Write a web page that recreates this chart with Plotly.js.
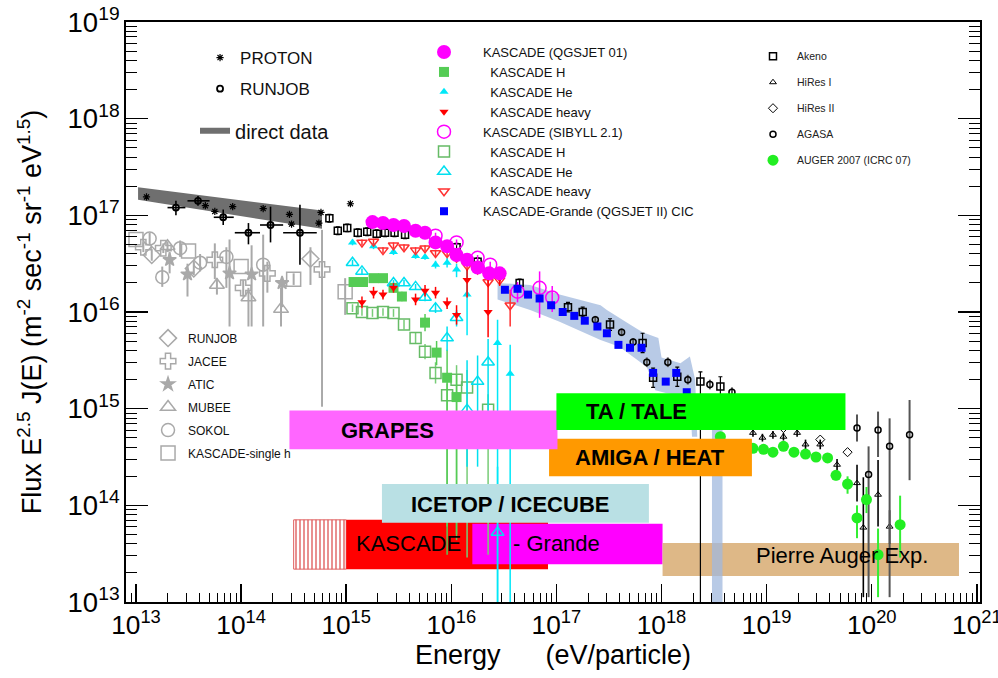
<!DOCTYPE html>
<html><head><meta charset="utf-8">
<script src="https://cdn.plot.ly/plotly-3.0.1.min.js"></script>
<style>html,body{margin:0;padding:0;background:#fff;} #chart{width:998px;height:678px;}</style>
</head><body><div id="chart"></div>
<script>
// All values are log10: energy in eV, flux E^2.5 J(E)
// ---- low-energy direct measurements ----
const protonE = [13.10,13.66,13.75,13.92,14.21,14.46,14.48,14.76,14.74,15.04];
const protonF = [17.19,17.10,17.04,17.09,17.07,17.01,16.91,17.03,16.92,17.12];

const runjobE   = [13.38,13.59,13.83,14.07,14.28,14.56];
const runjobF   = [17.08,17.15,16.98,16.82,16.90,16.82];
const runjobFHi = [17.15,17.20,17.06,16.92,17.09,17.11];
const runjobFLo = [17.00,17.10,16.90,16.70,16.72,16.49];
const runjobELo = [13.30,13.49,13.74,13.94,14.18,14.40];
const runjobEHi = [13.47,13.70,13.93,14.18,14.40,14.72];

const directE  = [13.02,14.77];
const directHi = [17.29,17.05];
const directLo = [17.16,16.86];

const gRunjobE  = [13.15,13.55,14.66];
const gRunjobF  = [16.59,16.45,16.55];
const gRunjobHi = [16.65,16.52,16.67];
const gRunjobLo = [16.53,16.38,16.28];

const jaceeE  = [13.07,13.26,13.75,14.02,14.25,14.77];
const jaceeF  = [16.67,16.66,16.54,16.25,16.40,16.44];
const jaceeHi = [16.72,16.71,16.71,16.33,16.52,16.85];
const jaceeLo = [16.62,16.61,16.34,16.16,16.20,15.02];

const aticE  = [13.32,13.49,13.89,14.10,14.39];
const aticF  = [16.54,16.39,16.40,16.39,16.30];
const aticHi = [16.62,16.50,16.75,16.69,16.36];
const aticLo = [16.40,16.16,15.85,15.85,16.05];

const mubeeE  = [13.30,13.77,14.07,14.38];
const mubeeF  = [16.68,16.28,16.15,16.03];
const mubeeHi = [16.73,16.35,16.25,16.25];
const mubeeLo = [16.62,16.18,15.85,15.85];

const sokolE  = [13.13,13.25,13.42,13.61,13.86,14.21];
const sokolF  = [16.76,16.36,16.66,16.51,16.57,16.49];
const sokolHi = [16.82,16.47,16.74,16.60,16.67,16.80];
const sokolLo = [16.70,16.26,16.57,16.42,16.25,15.85];

const kSingleE  = [13.00,13.50,14.00,14.50,14.99];
const kSingleF  = [16.75,16.63,16.47,16.34,16.21];
const kSingleHi = [16.75,16.63,16.47,16.40,16.35];
const kSingleLo = [16.75,16.63,16.47,16.28,15.97];

// ---- KASCADE (QGSJET 01) ----
const kqE = [15.25,15.35,15.45,15.55,15.66,15.75,15.85,15.96,16.05,16.15,16.25,16.36,16.46];
const kqF = [16.93,16.92,16.90,16.89,16.84,16.82,16.72,16.68,16.59,16.54,16.46,16.40,16.40];

const kqHE  = [15.07,15.16,15.26,15.35,15.45,15.53,15.75,15.86,15.96,16.05];
const kqHF  = [16.31,16.31,16.35,16.35,16.25,16.16,15.89,15.58,15.32,15.12];
const kqHHi = [16.35,16.35,16.39,16.39,16.29,16.21,15.98,15.70,15.61,15.35];
const kqHLo = [16.27,16.27,16.31,16.31,16.21,16.11,15.80,15.45,13.49,13.64];

const kqHeE  = [15.06,15.26,15.45,15.66,15.75,15.85,15.96,16.05,16.15,16.44,16.56];
const kqHeF  = [16.72,16.68,16.62,16.58,16.57,16.49,16.51,16.44,16.18,15.68,15.36];
const kqHeHi = [16.75,16.71,16.65,16.61,16.60,16.53,16.56,16.50,16.44,15.92,15.66];
const kqHeLo = [16.69,16.65,16.59,16.55,16.54,16.45,16.46,16.36,15.76,12.50,12.50];

const kqHvE  = [15.15,15.26,15.35,15.45,15.66,15.75,15.85,15.96,16.05,16.15,16.35,16.46];
const kqHvF  = [16.10,16.20,16.18,16.25,16.13,16.22,16.20,16.09,15.97,16.33,16.00,16.35];
const kqHvHi = [16.16,16.26,16.23,16.30,16.19,16.28,16.26,16.15,16.07,16.44,16.33,16.42];
const kqHvLo = [16.04,16.14,16.13,16.20,16.07,16.16,16.14,16.03,15.87,16.15,15.74,16.27];

// ---- KASCADE (SIBYLL 2.1) ----
const ksE  = [15.85,16.05,16.25,16.37,16.63,16.84,16.96];
const ksF  = [16.79,16.72,16.56,16.49,16.21,16.25,16.15];
const ksHi = [16.82,16.75,16.59,16.52,16.31,16.42,16.27];
const ksLo = [16.76,16.69,16.53,16.46,16.10,15.94,16.00];

const ksHE  = [15.06,15.15,15.25,15.35,15.45,15.55,15.66,15.75,15.85,15.96,16.05,16.15,16.35];
const ksHF  = [16.04,16.00,15.99,16.00,15.99,15.87,15.73,15.59,15.37,15.14,15.30,15.22,14.99];
const ksHHi = [16.08,16.04,16.03,16.04,16.03,15.92,15.79,15.67,15.48,15.26,15.45,15.40,15.15];
const ksHLo = [16.00,15.96,15.95,15.96,15.95,15.82,15.67,15.51,15.26,13.78,13.70,13.46,13.49];

const ksHeE  = [15.06,15.15,15.45,15.55,15.66,15.75,15.85,15.96,16.05,16.15,16.25,16.35,16.44];
const ksHeF  = [16.51,16.42,16.30,16.30,16.26,16.15,16.04,15.73,15.94,14.99,15.28,15.48,13.72];
const ksHeHi = [16.54,16.45,16.33,16.33,16.29,16.19,16.09,15.85,16.02,15.50,15.55,15.72,14.40];
const ksHeLo = [16.48,16.39,16.27,16.27,16.23,16.11,15.99,15.60,15.85,14.40,14.40,14.80,12.50];

const ksHvE  = [15.15,15.26,15.35,15.45,15.55,15.66,15.75,15.85,15.96,16.05,16.15,16.25,16.35,16.46,16.56];
const ksHvF  = [16.72,16.73,16.64,16.69,16.67,16.64,16.66,16.61,16.61,16.56,16.48,16.44,16.31,16.33,16.07];
const ksHvHi = [16.75,16.76,16.67,16.72,16.70,16.67,16.69,16.64,16.64,16.59,16.52,16.48,16.36,16.37,16.23];
const ksHvLo = [16.69,16.70,16.61,16.66,16.64,16.61,16.63,16.58,16.58,16.53,16.44,16.40,16.26,16.29,15.85];

// ---- KASCADE-Grande ----
const kgE = [16.51,16.63,16.73,16.84,16.95,17.06,17.17,17.27,17.39,17.48,17.59,17.70,17.81,17.92,18.04,18.14,18.24];
const kgF = [16.23,16.24,16.18,16.14,16.07,16.00,15.96,15.91,15.85,15.78,15.66,15.63,15.63,15.37,15.28,15.37,15.17];
const bandUpE = [16.44,16.75,17.03,17.42,17.48,17.70,17.82,17.97,18.00,18.18,18.27,18.32,18.34];
const bandUpF = [16.30,16.28,16.18,16.07,16.02,15.87,15.79,15.73,15.53,15.47,15.54,15.30,14.71];
const bandLoE = [16.44,16.75,17.03,17.42,17.60,17.86,17.94,18.05,18.27,18.29];
const bandLoF = [16.13,16.02,15.90,15.71,15.64,15.43,15.19,15.16,15.12,14.71];
const spikeE = [18.48,18.58];
const spikeF = [14.85,12.50];

// ---- UHE experiments ----
const akE = [14.84,14.92,15.01,15.11,15.20,15.29,15.37,15.46,15.56,15.74,16.05,16.25,16.46,16.65,17.11,17.25,17.51,17.82,17.92,18.15,18.37,18.56];
const akF = [16.97,16.84,16.87,16.82,16.83,16.81,16.82,16.82,16.80,16.83,16.67,16.52,16.41,16.30,16.05,16.00,15.87,15.68,15.32,15.33,15.28,15.23];
const akHi= [17.01,16.88,16.91,16.86,16.87,16.85,16.86,16.86,16.84,16.87,16.71,16.56,16.45,16.34,16.10,16.05,15.93,15.78,15.42,15.43,15.38,15.33];
const akLo= [16.93,16.80,16.83,16.78,16.79,16.77,16.78,16.78,16.76,16.79,16.63,16.48,16.37,16.26,16.00,15.95,15.81,15.58,15.22,15.23,12.50,15.13];

const h1E = [18.87,18.96,19.06,19.16,19.29,19.37,19.51,19.67,19.86,20.06,20.17,19.92];
const h1F = [14.75,14.70,14.73,14.71,14.75,14.63,14.63,14.42,14.23,14.11,13.78,13.77];
const h1Hi= [14.79,14.74,14.77,14.75,14.79,14.68,14.68,14.48,14.42,14.47,13.95,14.29];
const h1Lo= [14.71,14.66,14.69,14.67,14.71,14.58,14.58,14.36,14.04,13.78,13.60,13.05];

const h2E = [19.16,19.51,19.77];
const h2F = [14.80,14.68,14.55];

const agE = [17.37,17.62,17.73,17.86,18.06,18.25,18.46,18.67,19.86,20.06,20.36,19.97,20.17];
const agF = [15.92,15.79,15.69,15.48,15.48,15.30,15.25,15.17,14.80,14.78,14.73,14.32,14.61];
const agHi= [15.96,15.83,15.73,15.53,15.53,15.35,15.30,15.22,14.94,14.97,15.09,14.61,14.90];
const agLo= [15.88,15.75,15.65,15.43,15.43,15.25,15.20,15.12,14.66,14.50,14.26,13.05,13.05];

const auE = [18.56,18.87,18.97,19.06,19.16,19.26,19.37,19.47,19.58,19.66,19.77,19.95,19.86,20.06,20.27];
const auF = [14.71,14.59,14.58,14.55,14.61,14.55,14.53,14.50,14.49,14.31,14.22,14.06,13.87,13.49,13.80];
const auHi= [14.74,14.62,14.61,14.58,14.64,14.58,14.56,14.53,14.53,14.36,14.30,14.19,14.00,13.76,14.10];
const auLo= [14.68,14.56,14.55,14.52,14.58,14.52,14.50,14.47,14.45,14.26,14.12,13.92,13.66,13.05,13.46];

// ---- experiment coverage boxes (energy range, flux band) ----
const boxIds  = ['KASCADE-hatch','KASCADE','Grande','Auger','AMIGA','GRAPES','TA','ICETOP'];
const boxELo  = [14.50,15.00,16.20,18.01,16.93,14.46,17.00,15.34];
const boxEHi  = [15.00,16.92,18.01,20.83,18.86,17.01,19.75,17.88];
const boxFLo  = [13.34,13.34,13.39,13.27,14.30,14.58,14.78,13.82];
const boxFHi  = [13.85,13.85,13.81,13.61,14.69,14.98,15.16,14.22];

// ---------------- build ----------------
const P = v => Math.pow(10, v);
const lin = a => a.map(P);
function eb(f, hi, lo, color, th, w) {
  return {type:'data', symmetric:false, visible:true,
    array: f.map((v,i)=>P(hi[i])-P(v)), arrayminus: f.map((v,i)=>P(v)-P(lo[i])),
    color:color, thickness:th||1, width:(w===undefined?0:w)};
}
const FONT = 'Liberation Sans, Arial, Helvetica, sans-serif';
const boxStyle = {
  'KASCADE-hatch': {fill:'#ffffff', line:'#e06060', pattern:true},
  'KASCADE': {fill:'#ff0000'}, 'Grande': {fill:'#ff00ff'}, 'Auger': {fill:'#deb887'},
  'AMIGA': {fill:'#ff9900'}, 'GRAPES': {fill:'#ff66ff'}, 'TA': {fill:'#00ff00'}, 'ICETOP': {fill:'#b9e0e4'}
};
function boxTrace(i) {
  const id = boxIds[i], st = boxStyle[id];
  const t = {type:'scatter', mode:'lines', fill:'toself', showlegend:false, hoverinfo:'skip',
    x: lin([boxELo[i],boxEHi[i],boxEHi[i],boxELo[i],boxELo[i]]),
    y: lin([boxFLo[i],boxFLo[i],boxFHi[i],boxFHi[i],boxFLo[i]]),
    fillcolor: st.fill, line:{width: st.line?1:0, color: st.line||st.fill}};
  if (st.pattern) t.fillpattern = {shape:'|', fgcolor:'#e06060', bgcolor:'#ffffff', size:4, solidity:0.35};
  return t;
}
function pts(name, E, F, marker, legend, rank, err, errx) {
  const t = {type:'scatter', mode:'markers', name:name, x:lin(E), y:lin(F), marker:marker,
    legend:legend, legendrank:rank, legendgroup:name+rank, hoverinfo:'skip', cliponaxis:true};
  if (err) t.error_y = err;
  if (errx) t.error_x = errx;
  return t;
}
const gray = '#a9a9a9';
const traces = [];
// boxes below data
for (let i=0;i<4;i++) traces.push(boxTrace(i));
// Grande band
const bandX = lin(bandUpE.concat(bandLoE.slice().reverse())).concat([null]).concat(lin([spikeE[0],spikeE[1],spikeE[1],spikeE[0]]));
const bandY = lin(bandUpF.concat(bandLoF.slice().reverse())).concat([null]).concat(lin([spikeF[0],spikeF[0],spikeF[1],spikeF[1]]));
traces.push({type:'scatter', mode:'none', fill:'toself', fillcolor:'rgba(160,184,222,0.75)', x:bandX, y:bandY, showlegend:false, hoverinfo:'skip', connectgaps:false});
// gray direct measurements
const gm = (sym, size) => ({symbol:sym, size:size, color:gray, line:{color:gray, width:1.5}});
traces.push(pts('RUNJOB', gRunjobE, gRunjobF, gm('diamond-open',13), 'legend4', 1, eb(gRunjobF,gRunjobHi,gRunjobLo,gray,2)));
traces.push(pts('JACEE', jaceeE, jaceeF, gm('cross-open',13), 'legend4', 2, eb(jaceeF,jaceeHi,jaceeLo,gray,2)));
traces.push(pts('ATIC', aticE, aticF, gm('star',10), 'legend4', 3, eb(aticF,aticHi,aticLo,gray,2)));
traces.push(pts('MUBEE', mubeeE, mubeeF, gm('triangle-up-open',13), 'legend4', 4, eb(mubeeF,mubeeHi,mubeeLo,gray,2)));
traces.push(pts('SOKOL', sokolE, sokolF, gm('circle-open',13), 'legend4', 5, eb(sokolF,sokolHi,sokolLo,gray,2)));
traces.push(pts('KASCADE-single h', kSingleE, kSingleF, gm('square-open',14), 'legend4', 6, eb(kSingleF,kSingleHi,kSingleLo,gray,2)));
// direct data band
traces.push({type:'scatter', mode:'none', fill:'toself', fillcolor:'#6f6f6f', name:'direct data', legend:'legend5',
  x: lin([directE[0],directE[1],directE[1],directE[0]]), y: lin([directHi[0],directHi[1],directLo[1],directLo[0]]), hoverinfo:'skip'});
traces.push(pts('PROTON', protonE, protonF, {symbol:'asterisk-open', size:6, color:'#000', line:{color:'#000',width:1.2}}, 'legend', 1));
traces.push(pts('RUNJOB', runjobE, runjobF, {symbol:'circle-open', size:6, color:'#000', line:{color:'#000',width:1.8}}, 'legend', 2,
  eb(runjobF,runjobFHi,runjobFLo,'#000',1.6), eb(runjobE,runjobEHi,runjobELo,'#000',1.6)));
// UHE
traces.push(pts('Akeno', akE, akF, {symbol:'square-open', size:7, color:'#000', line:{color:'#000',width:1.5}}, 'legend3', 1, eb(akF,akHi,akLo,'#000',1.2,2)));
traces.push(pts('HiRes I', h1E, h1F, {symbol:'triangle-up-open', size:6, color:'#000', line:{color:'#000',width:1}}, 'legend3', 2, eb(h1F,h1Hi,h1Lo,'#000',1.6)));
traces.push(pts('HiRes II', h2E, h2F, {symbol:'diamond-open', size:7, color:'#000', line:{color:'#000',width:1}}, 'legend3', 3));
traces.push(pts('AGASA', agE, agF, {symbol:'circle-open', size:6, color:'#000', line:{color:'#000',width:1.5}}, 'legend3', 4, eb(agF,agHi,agLo,'#555',2)));
// KASCADE
traces.push(pts('\u00a0\u00a0KASCADE H', ksHE, ksHF, {symbol:'square-open', size:11, color:'#66bb66', line:{color:'#66bb66',width:1.5}}, 'legend2', 6, eb(ksHF,ksHHi,ksHLo,'#77cc77',1.5)));
traces.push(pts('\u00a0\u00a0KASCADE H', kqHE, kqHF, {symbol:'square', size:10, color:'#55cc55'}, 'legend2', 2, eb(kqHF,kqHHi,kqHLo,'#55cc55',1.5)));
traces.push(pts('\u00a0\u00a0KASCADE He', ksHeE, ksHeF, {symbol:'triangle-up-open', size:11, color:'#00e0f0', line:{color:'#00e0f0',width:1.5}}, 'legend2', 7, eb(ksHeF,ksHeHi,ksHeLo,'#00e0f0',1.5)));
traces.push(pts('\u00a0\u00a0KASCADE He', kqHeE, kqHeF, {symbol:'triangle-up', size:8, color:'#00e8f8'}, 'legend2', 3, eb(kqHeF,kqHeHi,kqHeLo,'#00e8f8',1.5)));
traces.push(pts('\u00a0\u00a0KASCADE heavy', ksHvE, ksHvF, {symbol:'triangle-down-open', size:9, color:'#ff3030', line:{color:'#ff3030',width:1.5}}, 'legend2', 8, eb(ksHvF,ksHvHi,ksHvLo,'#ff3030',1.5)));
traces.push(pts('\u00a0\u00a0KASCADE heavy', kqHvE, kqHvF, {symbol:'triangle-down', size:8, color:'#ff0000'}, 'legend2', 4, eb(kqHvF,kqHvHi,kqHvLo,'#ff0000',1.5)));
traces.push(pts('KASCADE (QGSJET 01)', kqE, kqF, {symbol:'circle', size:14, color:'#ff00ff'}, 'legend2', 1));
traces.push(pts('KASCADE (SIBYLL 2.1)', ksE, ksF, {symbol:'circle-open', size:13, color:'#ff00ff', line:{color:'#ff00ff',width:1.5}}, 'legend2', 5, eb(ksF,ksHi,ksLo,'#ff00ff',1.5)));
traces.push(pts('KASCADE-Grande (QGSJET II) CIC', kgE, kgF, {symbol:'square', size:8, color:'#0000ff'}, 'legend2', 9));
traces.push(pts('AUGER 2007 (ICRC 07)', auE, auF, {symbol:'circle', size:11, color:'#22ee22'}, 'legend3', 5, eb(auF,auHi,auLo,'#33ee33',2)));
// boxes above data
for (let i=4;i<boxIds.length;i++) traces.push(boxTrace(i));

const boxLabels = [
  {text:'<b>GRAPES</b>', x:15.39, y:14.77},
  {text:'<b>TA / TALE</b>', x:17.76, y:14.97},
  {text:'<b>AMIGA / HEAT</b>', x:17.89, y:14.49},
  {text:'<b>ICETOP / ICECUBE</b>', x:16.56, y:14.005},
  {text:'KASCADE', x:15.59, y:13.61},
  {text:'- Grande', x:17.00, y:13.61},
  {text:'Pierre Auger Exp.', x:19.72, y:13.48}
].map(a => Object.assign({xref:'x', yref:'y', showarrow:false, font:{family:FONT, size:22, color:'#000'}}, a));

const legBase = {bgcolor:'rgba(0,0,0,0)', borderwidth:0, xanchor:'left', yanchor:'top', traceorder:'grouped', itemsizing:'trace', itemclick:false};
const layout = {
  width:998, height:678, paper_bgcolor:'#fff', plot_bgcolor:'#fff',
  margin:{l:126, r:18, t:22, b:76},
  font:{family:FONT, color:'#000'},
  xaxis:{type:'log', range:[12.905,21.03], dtick:1, exponentformat:'power', tickfont:{size:21,color:'#000'},
    ticklabeloverflow:'allow',
    ticks:'inside', ticklen:18, tickwidth:1.5, tickcolor:'#000', mirror:true, showline:true, linewidth:2, linecolor:'#000',
    showgrid:false, zeroline:false,
    minor:{ticks:'inside', ticklen:9, tickwidth:1, tickcolor:'#000', dtick:'D1', showgrid:false},
    title:{text:'Energy\u00a0\u00a0\u00a0\u00a0\u00a0\u00a0(eV/particle)', font:{size:27,color:'#000'}, standoff:6}},
  yaxis:{type:'log', range:[13,19], dtick:1, exponentformat:'power', tickfont:{size:22,color:'#000'},
    ticks:'inside', ticklen:22, tickwidth:1.5, tickcolor:'#000', mirror:'allticks', showline:true, linewidth:2, linecolor:'#000',
    showgrid:false, zeroline:false,
    minor:{ticks:'inside', ticklen:11, tickwidth:1, tickcolor:'#000', dtick:'D1', showgrid:false},
    title:{text:'Flux E<sup>2.5</sup> J(E) (m<sup>-2</sup> sec<sup>-1</sup> sr<sup>-1</sup> eV<sup>1.5</sup>)', font:{size:27,color:'#000'}, standoff:18}},
  legend: Object.assign({}, legBase, {x:0.0867, y:0.969, font:{size:17,color:'#111'}, tracegroupgap:6, itemwidth:30}),
  legend2: Object.assign({}, legBase, {x:0.3267, y:0.974, font:{size:13,color:'#111'}, tracegroupgap:0, itemwidth:68}),
  legend3: Object.assign({}, legBase, {x:0.7295, y:0.966, font:{size:10.5,color:'#222'}, tracegroupgap:7, itemwidth:38}),
  legend4: Object.assign({}, legBase, {x:0.0258, y:0.480, font:{size:12,color:'#111'}, tracegroupgap:4, itemwidth:30}),
  legend5: Object.assign({}, legBase, {x:0.0808, y:0.846, font:{size:20,color:'#111'}, itemwidth:30}),
  annotations: boxLabels,
  showlegend:true
};
Plotly.newPlot('chart', traces, layout, {displayModeBar:false, staticPlot:true});
</script></body></html>
